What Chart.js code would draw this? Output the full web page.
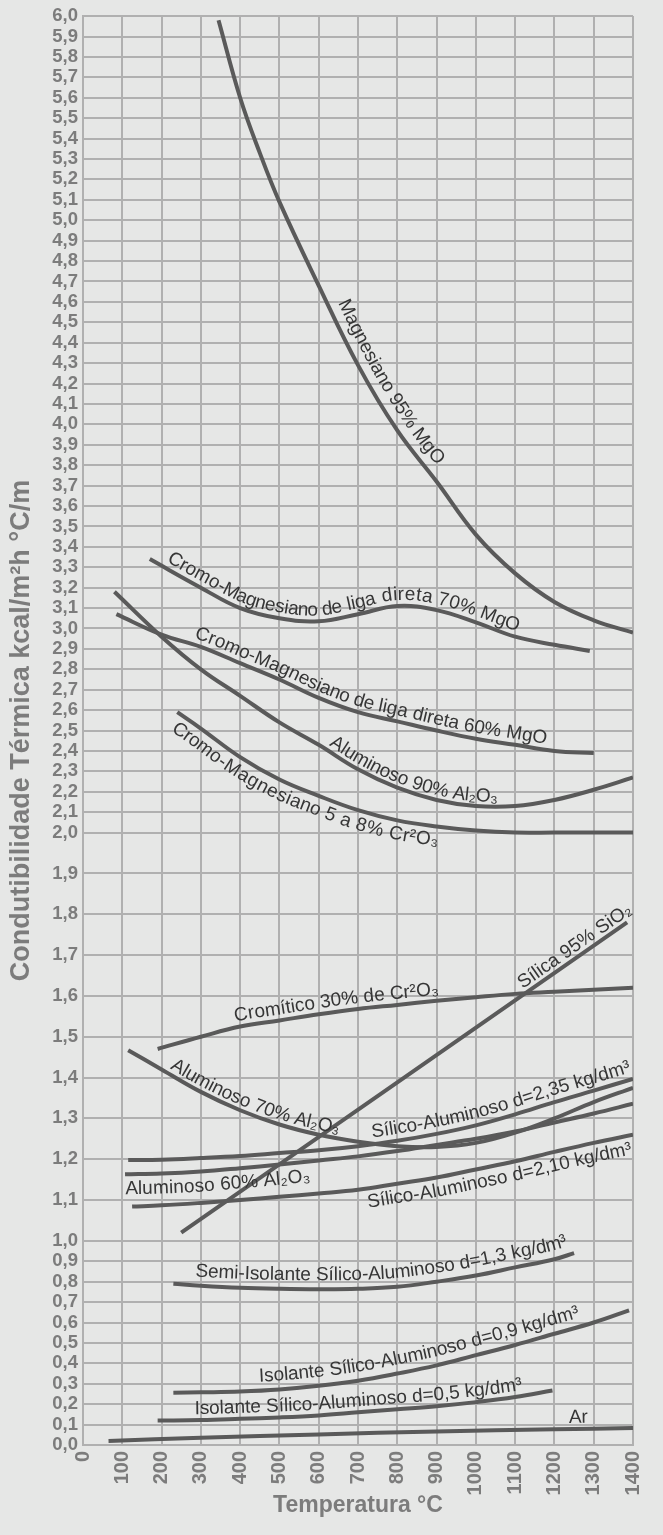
<!DOCTYPE html>
<html>
<head>
<meta charset="utf-8">
<script src="https://cdn.jsdelivr.net/npm/chart.js@4.4.1/dist/chart.umd.min.js"></script>
<style>
  html, body { margin: 0; padding: 0; background: #e6e7e6; }
  .chart-wrapper { width: 663px; height: 1535px; }
</style>
</head>
<body>
<div class="chart-wrapper"><canvas id="chart"></canvas></div>
<script>
// [temperatura °C, condutibilidade kcal/m²h °C/m]
const magnesiano95 = [[345, 5.98], [400, 5.60], [450, 5.33], [500, 5.09], [600, 4.68], [700, 4.29], [800, 3.97], [900, 3.72], [1000, 3.46], [1100, 3.27], [1200, 3.13], [1300, 3.04], [1400, 2.98]];
const cromoMag70 = [[170, 3.34], [300, 3.20], [400, 3.10], [500, 3.05], [600, 3.035], [700, 3.07], [800, 3.11], [900, 3.09], [1000, 3.03], [1100, 2.96], [1200, 2.92], [1290, 2.89]];
const cromoMag60 = [[85, 3.07], [200, 2.97], [300, 2.91], [400, 2.83], [500, 2.75], [600, 2.66], [700, 2.59], [800, 2.545], [900, 2.50], [1000, 2.46], [1100, 2.43], [1200, 2.40], [1300, 2.39]];
const aluminoso90 = [[80, 3.18], [200, 2.96], [300, 2.80], [400, 2.67], [500, 2.54], [600, 2.43], [700, 2.31], [800, 2.22], [900, 2.16], [1000, 2.13], [1100, 2.13], [1200, 2.16], [1300, 2.21], [1400, 2.27]];
const cromoMag5a8 = [[240, 2.59], [300, 2.51], [400, 2.37], [500, 2.26], [600, 2.18], [700, 2.11], [800, 2.06], [900, 2.03], [1000, 2.01], [1100, 2.0], [1200, 2.0], [1300, 2.0], [1400, 2.0]];
const cromitico30 = [[190, 1.47], [300, 1.50], [400, 1.525], [500, 1.54], [600, 1.555], [700, 1.568], [800, 1.578], [900, 1.588], [1000, 1.597], [1100, 1.605], [1200, 1.61], [1300, 1.615], [1400, 1.62]];
const silica95 = [[250, 1.02], [1385, 1.78]];
const aluminoso70 = [[115, 1.467], [200, 1.42], [300, 1.365], [400, 1.32], [500, 1.285], [600, 1.26], [700, 1.243], [800, 1.232], [900, 1.23], [1000, 1.24], [1100, 1.265], [1200, 1.30], [1300, 1.34], [1400, 1.375]];
const silicoAl235 = [[115, 1.198], [200, 1.199], [300, 1.203], [400, 1.208], [500, 1.215], [600, 1.222], [700, 1.232], [800, 1.245], [900, 1.262], [1000, 1.283], [1100, 1.31], [1200, 1.34], [1300, 1.368], [1400, 1.397]];
const aluminoso60 = [[107, 1.163], [200, 1.165], [300, 1.17], [400, 1.178], [500, 1.187], [600, 1.197], [700, 1.207], [800, 1.22], [900, 1.235], [1000, 1.25], [1100, 1.268], [1200, 1.29], [1300, 1.312], [1400, 1.336]];
const silicoAl210 = [[125, 1.084], [200, 1.087], [300, 1.093], [400, 1.10], [500, 1.108], [600, 1.116], [700, 1.125], [800, 1.14], [900, 1.155], [1000, 1.175], [1100, 1.195], [1200, 1.218], [1300, 1.24], [1400, 1.26]];
const semiIsolante13 = [[230, 0.79], [300, 0.78], [400, 0.77], [500, 0.765], [600, 0.763], [700, 0.765], [800, 0.775], [900, 0.80], [1000, 0.83], [1100, 0.87], [1200, 0.91], [1250, 0.94]];
const isolante09 = [[230, 0.256], [300, 0.258], [400, 0.262], [500, 0.272], [600, 0.29], [700, 0.315], [800, 0.35], [900, 0.39], [1000, 0.44], [1100, 0.49], [1200, 0.545], [1300, 0.60], [1390, 0.66]];
const isolante05 = [[190, 0.12], [300, 0.122], [400, 0.128], [500, 0.135], [600, 0.145], [700, 0.16], [800, 0.175], [900, 0.19], [1000, 0.21], [1100, 0.235], [1195, 0.267]];
const ar = [[65, 0.02], [300, 0.035], [600, 0.052], [900, 0.066], [1200, 0.077], [1400, 0.083]];

const curves = [magnesiano95, cromoMag70, cromoMag60, aluminoso90, cromoMag5a8, cromitico30, silica95,
  aluminoso70, silicoAl235, aluminoso60, silicoAl210, semiIsolante13, isolante09, isolante05, ar];

const seriesNames = [
  'Magnesiano 95% MgO',
  'Cromo-Magnesiano de liga direta 70% MgO',
  'Cromo-Magnesiano de liga direta 60% MgO',
  'Aluminoso 90% Al₂O₃',
  'Cromo-Magnesiano 5 a 8% Cr²O₃',
  'Cromítico 30% de Cr²O₃',
  'Sílica 95% SiO₂',
  'Aluminoso 70% Al₂O₃',
  'Sílico-Aluminoso d=2,35 kg/dm³',
  'Aluminoso 60% Al₂O₃',
  'Sílico-Aluminoso d=2,10 kg/dm³',
  'Semi-Isolante Sílico-Aluminoso d=1,3 kg/dm³',
  'Isolante Sílico-Aluminoso d=0,9 kg/dm³',
  'Isolante Sílico-Aluminoso d=0,5 kg/dm³',
  'Ar'
];

const xTicks = [0, 100, 200, 300, 400, 500, 600, 700, 800, 900, 1000, 1100, 1200, 1300, 1400];
const yTicks = Array.from({ length: 61 }, (_, i) => i / 10);

const CURVE = '#5a5a5a';
const GRID = '#b0b0b0';
const AXIS_TEXT = '#7c7c7c';
const FONT = '"Liberation Sans", Arial, sans-serif';

Chart.defaults.font.family = FONT;

// y axis: 0-1 and 2-6 at one scale, 1-2 stretched twice as tall
class BrokenScale extends Chart.LinearScale {
  toT(v) { return v <= 1 ? v : v <= 2 ? 1 + 2 * (v - 1) : 3 + (v - 2); }
  fromT(t) { return t <= 1 ? t : t <= 3 ? 1 + (t - 1) / 2 : t - 1; }
  getPixelForValue(value) {
    const t0 = this.toT(this.min), t1 = this.toT(this.max);
    return this.getPixelForDecimal((this.toT(value) - t0) / (t1 - t0));
  }
  getValueForPixel(pixel) {
    const t0 = this.toT(this.min), t1 = this.toT(this.max);
    return this.fromT(t0 + this.getDecimalForPixel(pixel) * (t1 - t0));
  }
}
BrokenScale.id = 'broken';
BrokenScale.defaults = Chart.LinearScale.defaults;
Chart.register(BrokenScale);

function samplePath(points) {
  const out = [];
  for (let i = 0; i < points.length - 1; i++) {
    const a = points[i], b = points[i + 1];
    const c1x = a.cp2x ?? a.x, c1y = a.cp2y ?? a.y;
    const c2x = b.cp1x ?? b.x, c2y = b.cp1y ?? b.y;
    for (let k = 0; k < 24; k++) {
      const t = k / 24, u = 1 - t;
      out.push({
        x: u * u * u * a.x + 3 * u * u * t * c1x + 3 * u * t * t * c2x + t * t * t * b.x,
        y: u * u * u * a.y + 3 * u * u * t * c1y + 3 * u * t * t * c2y + t * t * t * b.y
      });
    }
  }
  const last = points[points.length - 1];
  out.push({ x: last.x, y: last.y });
  out[0].s = 0;
  for (let i = 1; i < out.length; i++) {
    out[i].s = out[i - 1].s + Math.hypot(out[i].x - out[i - 1].x, out[i].y - out[i - 1].y);
  }
  return out;
}

function pointAt(path, s) {
  let i = 0;
  while (i < path.length - 2 && path[i + 1].s < s) i++;
  const a = path[i], b = path[i + 1];
  const seg = (b.s - a.s) || 1;
  const f = (s - a.s) / seg;
  return { x: a.x + (b.x - a.x) * f, y: a.y + (b.y - a.y) * f, a: Math.atan2(b.y - a.y, b.x - a.x) };
}

// writes each name along its own curve
const curveLabels = {
  id: 'curveLabels',
  afterDatasetsDraw(chart, args, opts) {
    const ctx = chart.ctx;
    const xScale = chart.scales.x;
    ctx.save();
    ctx.fillStyle = opts.color;
    ctx.font = opts.font;
    ctx.textBaseline = 'alphabetic';
    opts.items.forEach(item => {
      const path = samplePath(chart.getDatasetMeta(item.series).data);
      const x0 = xScale.getPixelForValue(item.from);
      let s = (path.find(p => p.x >= x0) || path[0]).s;
      for (const ch of seriesNames[item.series]) {
        const w = ctx.measureText(ch).width;
        const p = pointAt(path, s + w / 2);
        ctx.save();
        ctx.translate(p.x + Math.sin(p.a) * item.offset, p.y - Math.cos(p.a) * item.offset);
        ctx.rotate(p.a);
        ctx.fillText(ch, -w / 2, 0);
        ctx.restore();
        s += w;
      }
    });
    ctx.restore();
  }
};

new Chart(document.getElementById('chart'), {
  type: 'line',
  data: {
    datasets: curves.map((c, i) => ({
      label: seriesNames[i],
      data: c.map(([x, y]) => ({ x, y }))
    }))
  },
  options: {
    responsive: true,
    maintainAspectRatio: false,
    animation: false,
    layout: { padding: { top: 14, right: 17, left: 0, bottom: 0 } },
    elements: {
      point: { radius: 0 },
      line: { borderColor: CURVE, borderWidth: 4, tension: 0.4, fill: false, borderCapStyle: 'butt' }
    },
    plugins: {
      legend: { display: false },
      tooltip: { enabled: false },
      curveLabels: {
        color: '#363636',
        font: '19px ' + FONT,
        items: [
          { series: 0, from: 625, offset: 10 },
          { series: 1, from: 200, offset: 6 },
          { series: 2, from: 275, offset: 6 },
          { series: 3, from: 615, offset: 5 },
          { series: 4, from: 250, offset: -19 },
          { series: 5, from: 390, offset: 6 },
          { series: 6, from: 1115, offset: 5 },
          { series: 7, from: 210, offset: 5 },
          { series: 8, from: 735, offset: 7 },
          { series: 9, from: 107, offset: -20 },
          { series: 10, from: 715, offset: -19 },
          { series: 11, from: 282, offset: 9 },
          { series: 12, from: 450, offset: 9 },
          { series: 13, from: 282, offset: 6 },
          { series: 14, from: 1230, offset: 6 }
        ]
      }
    },
    scales: {
      x: {
        type: 'linear',
        min: 0,
        max: 1400,
        afterBuildTicks: s => { s.ticks = xTicks.map(v => ({ value: v })); },
        afterFit: s => { s.height = 90; },
        ticks: {
          autoSkip: false, minRotation: 90, maxRotation: 90, padding: 6,
          color: AXIS_TEXT, font: { size: 20, weight: 'bold' },
          callback: v => String(v)
        },
        grid: { color: GRID, lineWidth: 2, drawTicks: false },
        border: { color: GRID, width: 2 },
        title: {
          display: true, text: 'Temperatura °C', color: AXIS_TEXT,
          font: { size: 23, weight: 'bold' }, padding: { bottom: 16 }
        }
      },
      y: {
        type: 'broken',
        min: 0,
        max: 6,
        afterBuildTicks: s => { s.ticks = yTicks.map(v => ({ value: v })); },
        afterFit: s => { s.width = 83; },
        ticks: {
          autoSkip: false, padding: 5,
          color: AXIS_TEXT, font: { size: 18.5, weight: 'bold' },
          callback: v => v.toFixed(1).replace('.', ',')
        },
        grid: { color: GRID, lineWidth: 2, drawTicks: false },
        border: { color: GRID, width: 2 },
        title: {
          display: true, text: 'Condutibilidade Térmica kcal/m²h °C/m', color: AXIS_TEXT,
          font: { size: 27, weight: 'bold' }, padding: { top: 5 }
        }
      }
    }
  },
  plugins: [curveLabels]
});
</script>
</body>
</html>
